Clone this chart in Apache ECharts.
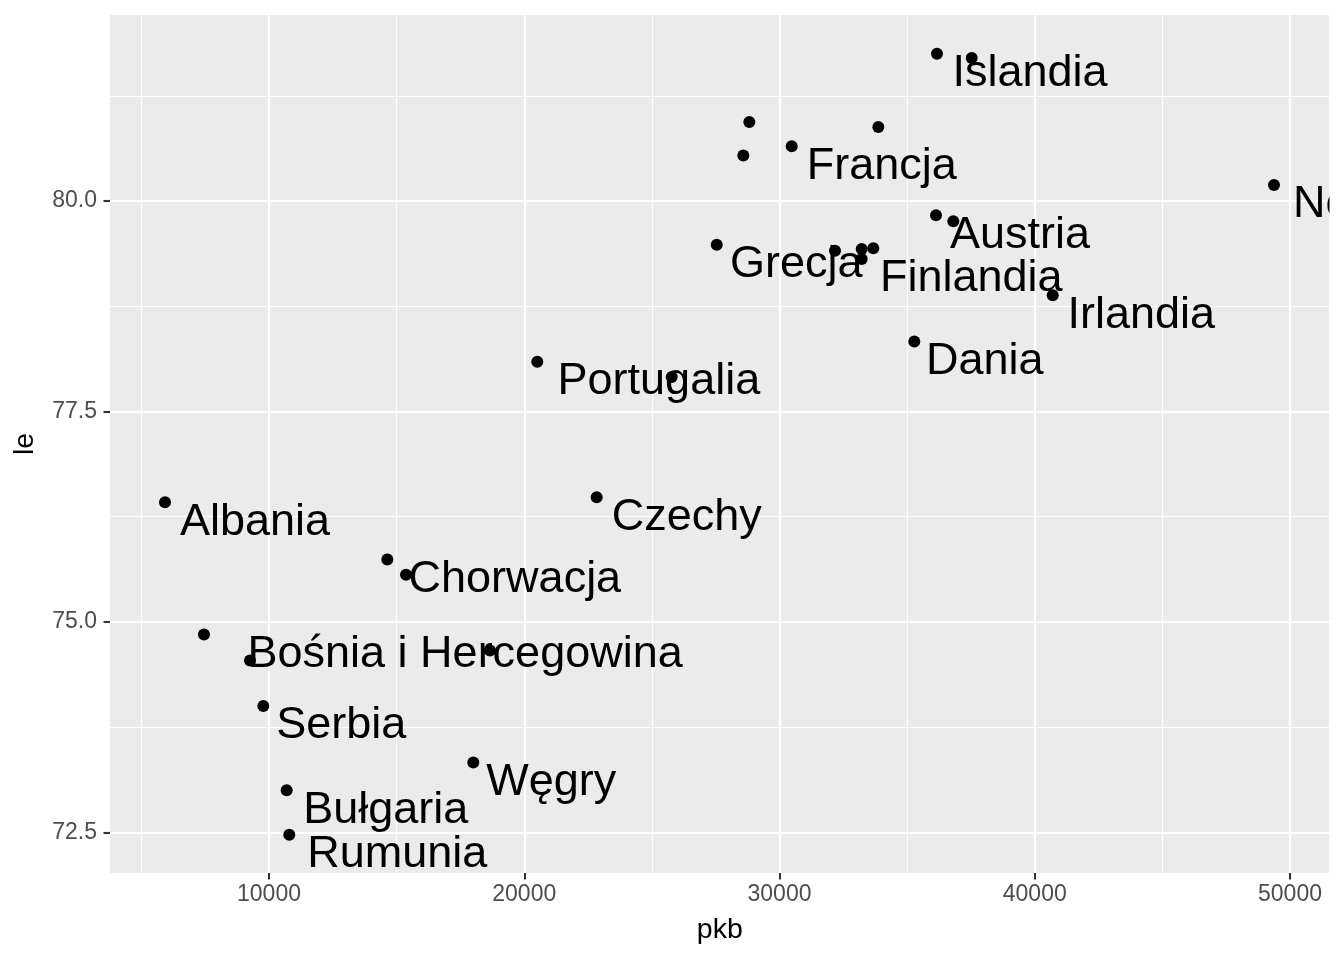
<!DOCTYPE html>
<html>
<head>
<meta charset="utf-8">
<title>le ~ pkb</title>
<script src="https://cdn.jsdelivr.net/npm/echarts@6/dist/echarts.min.js"></script>
<style>
  html, body { margin: 0; padding: 0; background: #fff; }
  #chart { width: 1344px; height: 960px; }
</style>
</head>
<body>
<div id="chart"></div>
<script>
// dane
var pkb = [36170, 37530, 28817, 33871, 28582, 30478, 49373, 36131, 36809, 27540,
           32174, 33220, 33675, 33220, 40703, 35281, 20511, 25777, 22838, 5926,
           14635, 15367, 7453, 9256, 18658, 9777, 18004, 10693, 10795];
var le = [81.75, 81.70, 80.94, 80.88, 80.54, 80.65, 80.19, 79.83, 79.76, 79.48,
          79.41, 79.43, 79.44, 79.31, 78.88, 78.33, 78.09, 77.91, 76.48, 76.42,
          75.74, 75.56, 74.85, 74.54, 74.66, 74.00, 73.33, 73.00, 72.47];
var kraj = ['Islandia', '', '', '', '', 'Francja', 'Norwegia', 'Austria', '', 'Grecja',
            '', '', '', 'Finlandia', 'Irlandia', 'Dania', 'Portugalia', '', 'Czechy', 'Albania',
            'Chorwacja', '', 'Bośnia i Hercegowina', '', '', 'Serbia', 'Węgry', 'Bułgaria', 'Rumunia'];

var xTicks = [10000, 20000, 30000, 40000, 50000];
var xMinor = [5000, 15000, 25000, 35000, 45000];
var yTicks = [72.5, 75, 77.5, 80];
var yMinor = [73.75, 76.25, 78.75, 81.25];

var FONT = '"Liberation Sans", Arial, Helvetica, sans-serif';

// hjust = -0.1 jak w geom_text: przesuniecie o 10% szerokosci napisu
var ctx = document.createElement('canvas').getContext('2d');
ctx.font = '45px ' + FONT;
function hjust(t) { return 0.1 * ctx.measureText(t).width; }

var punkty = pkb.map(function (x, i) {
  return {
    value: [x, le[i]],
    name: kraj[i],
    label: { show: kraj[i] !== '', position: [6 + hjust(kraj[i]), 6 + 20] }
  };
});

// linie siatki
var siatka = [].concat(
  xMinor.map(function (v) { return { xAxis: v, lineStyle: { width: 1.1 } }; }),
  yMinor.map(function (v) { return { yAxis: v, lineStyle: { width: 1.1 } }; }),
  xTicks.map(function (v) { return { xAxis: v, lineStyle: { width: 2.2 } }; }),
  yTicks.map(function (v) { return { yAxis: v, lineStyle: { width: 2.2 } }; })
);

var myChart = echarts.init(document.getElementById('chart'));
var option = {
  animation: false,
  grid: {
    left: 110, right: 14.5, top: 15, bottom: 87,
    show: true, backgroundColor: '#EBEBEB', borderWidth: 0,
    outerBoundsMode: 'none'
  },
  xAxis: {
    type: 'value', min: 3771, max: 51547,
    name: 'pkb', nameLocation: 'middle', nameGap: 43,
    nameTextStyle: { fontFamily: FONT, fontSize: 28.5, color: '#000' },
    axisLine: { show: false },
    axisTick: { show: true, length: 6.5, customValues: xTicks, lineStyle: { color: '#333', width: 2.1 } },
    axisLabel: {
      customValues: xTicks, margin: 10,
      fontFamily: FONT, fontSize: 23, color: '#4D4D4D',
      formatter: function (v) { return String(v); }
    },
    splitLine: { show: false }
  },
  yAxis: {
    type: 'value', min: 72.016, max: 82.21,
    name: 'le', nameLocation: 'middle', nameGap: 70, nameRotate: 90,
    nameTextStyle: { fontFamily: FONT, fontSize: 28.5, color: '#000' },
    axisLine: { show: false },
    axisTick: { show: true, length: 6.5, customValues: yTicks, lineStyle: { color: '#333', width: 2.1 } },
    axisLabel: {
      customValues: yTicks, margin: 13,
      fontFamily: FONT, fontSize: 23, color: '#4D4D4D',
      formatter: function (v) { return v.toFixed(1); }
    },
    splitLine: { show: false }
  },
  series: [
    {
      type: 'scatter', data: [], silent: true, z: 1,
      markLine: {
        silent: true, animation: false, z: 1,
        symbol: ['none', 'none'],
        label: { show: false },
        emphasis: { disabled: true },
        lineStyle: { color: '#FFFFFF', type: 'solid', opacity: 1 },
        data: siatka
      }
    },
    {
      type: 'scatter', z: 3,
      symbol: 'circle', symbolSize: 12,
      itemStyle: { color: '#000', opacity: 1 },
      emphasis: { disabled: true },
      label: {
        show: true,
        formatter: '{b}',
        align: 'left', verticalAlign: 'middle',
        fontFamily: FONT, fontSize: 45, color: '#000', opacity: 1,
        textBorderWidth: 0
      },
      data: punkty
    }
  ],
  graphic: {
    elements: [
      { type: 'rect', z: 100, shape: { x: 1329.5, y: 0, width: 20, height: 960 }, style: { fill: '#fff' } }
    ]
  }
};
myChart.setOption(option);
</script>
</body>
</html>
